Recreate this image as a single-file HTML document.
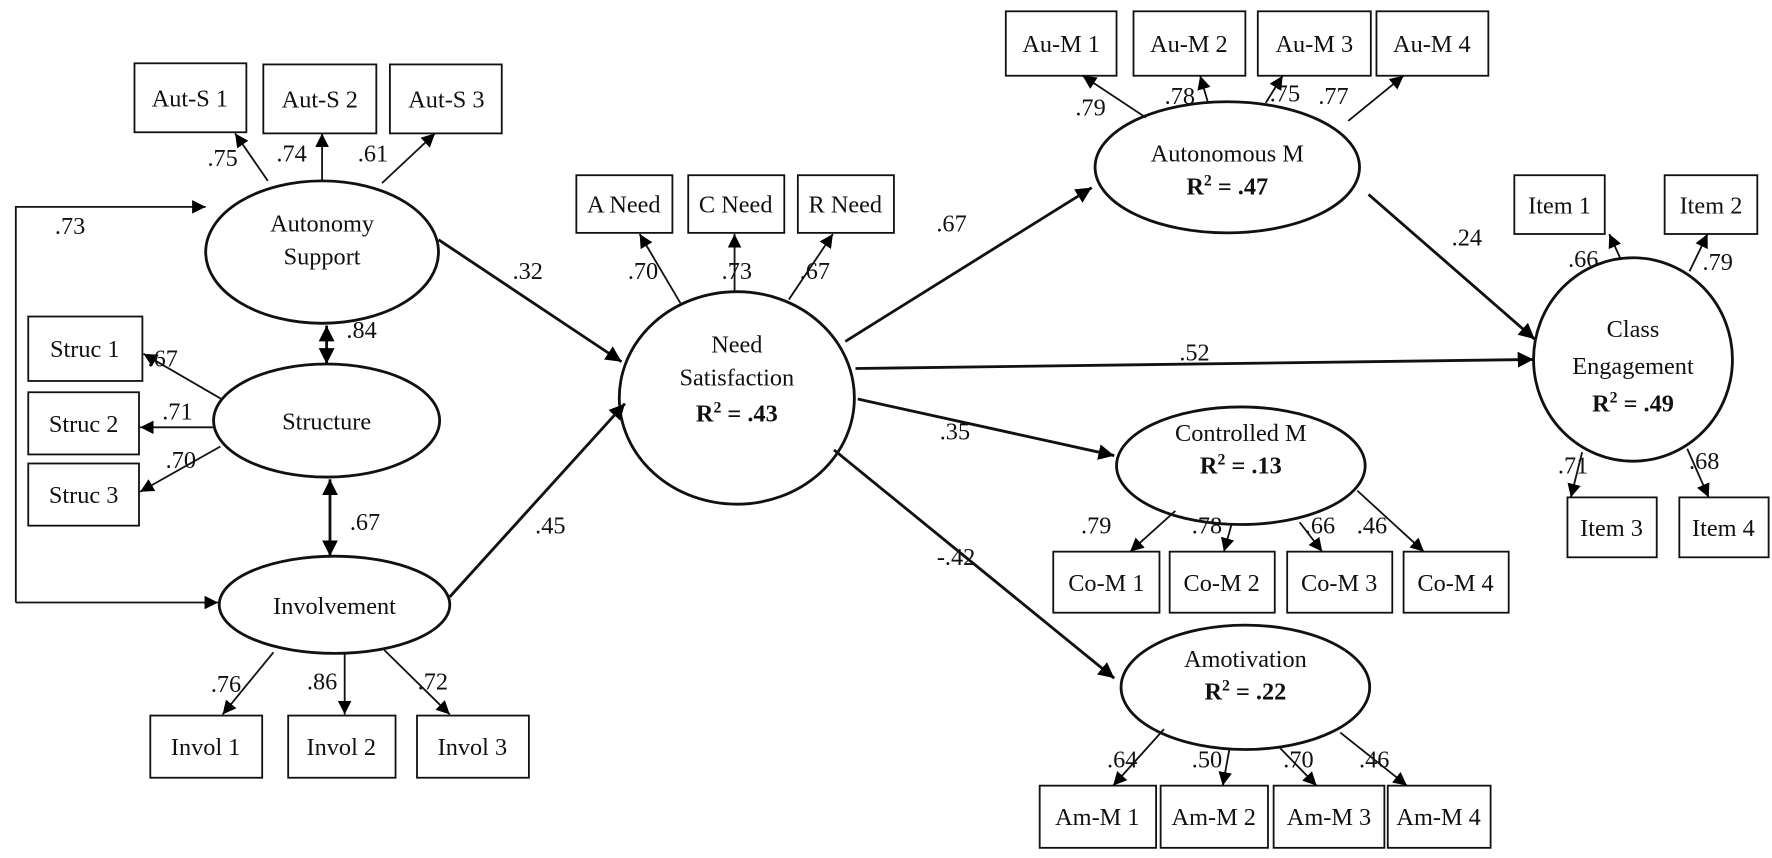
<!DOCTYPE html>
<html><head><meta charset="utf-8"><style>
html,body{margin:0;padding:0;background:#fff;}
svg{display:block;}
text{font-family:"Liberation Serif",serif;font-size:21.5px;fill:#111;}
.b{font-weight:bold;}
</style></head><body>
<svg width="1772" height="858" viewBox="0 0 1568 759" preserveAspectRatio="none" xmlns="http://www.w3.org/2000/svg">
<defs>
<marker id="a" viewBox="0 0 10 10" refX="10" refY="5" markerWidth="12" markerHeight="12" markerUnits="userSpaceOnUse" orient="auto"><path d="M0,0 L10,5 L0,10 z" fill="#000"/></marker>
<marker id="A" viewBox="0 0 10 10" refX="10" refY="5" markerWidth="14" markerHeight="14" markerUnits="userSpaceOnUse" orient="auto"><path d="M0,0 L10,5 L0,10 z" fill="#000"/></marker>
<marker id="As" viewBox="0 0 10 10" refX="0" refY="5" markerWidth="14" markerHeight="14" markerUnits="userSpaceOnUse" orient="auto"><path d="M10,0 L0,5 L10,10 z" fill="#000"/></marker>
</defs>
<g fill="#fff" stroke="#111" stroke-width="1.6">
<rect x="119" y="56" width="99" height="61"/><rect x="233" y="57" width="100" height="61"/><rect x="345" y="57" width="99" height="61"/>
<rect x="25" y="280" width="101" height="57"/><rect x="25" y="347" width="98" height="55"/><rect x="25" y="410" width="98" height="55"/>
<rect x="133" y="633" width="99" height="55"/><rect x="255" y="633" width="95" height="55"/><rect x="369" y="633" width="99" height="55"/>
<rect x="510" y="155" width="85" height="51"/><rect x="609" y="155" width="85" height="51"/><rect x="706" y="155" width="85" height="51"/>
<rect x="890" y="10" width="98" height="57"/><rect x="1003" y="10" width="99" height="57"/><rect x="1113" y="10" width="100" height="57"/><rect x="1218" y="10" width="99" height="57"/>
<rect x="1340" y="155" width="80" height="52"/><rect x="1473" y="155" width="82" height="52"/><rect x="1387" y="440" width="79" height="53"/><rect x="1486" y="440" width="79" height="53"/>
<rect x="932" y="488" width="94" height="54"/><rect x="1035" y="488" width="93" height="54"/><rect x="1139" y="488" width="93" height="54"/><rect x="1242" y="488" width="93" height="54"/>
<rect x="920" y="695" width="103" height="55"/><rect x="1027" y="695" width="95" height="55"/><rect x="1127" y="695" width="98" height="55"/><rect x="1228" y="695" width="91" height="55"/>
</g>
<g fill="#fff" stroke="#111" stroke-width="2.5">
<ellipse cx="285" cy="223" rx="103" ry="63"/>
<ellipse cx="289" cy="372" rx="100" ry="50"/>
<ellipse cx="296" cy="535" rx="102" ry="43"/>
<ellipse cx="652" cy="352" rx="104" ry="94"/>
<ellipse cx="1086" cy="148" rx="117" ry="58"/>
<ellipse cx="1445" cy="318" rx="88" ry="90"/>
<ellipse cx="1098" cy="412" rx="110" ry="52"/>
<ellipse cx="1102" cy="608" rx="110" ry="55"/>
</g>
<g stroke="#111" stroke-width="1.6" fill="none" marker-end="url(#a)">
<line x1="237" y1="160" x2="208" y2="118"/><line x1="285" y1="160" x2="285" y2="118"/><line x1="338" y1="162" x2="385" y2="118"/>
<line x1="196" y1="353" x2="127" y2="313"/><line x1="189" y1="378" x2="124" y2="378"/><line x1="195" y1="395" x2="124" y2="435"/>
<line x1="242" y1="577" x2="197" y2="632"/><line x1="305" y1="578" x2="305" y2="632"/><line x1="340" y1="575" x2="398" y2="632"/>
<line x1="602" y1="268" x2="566" y2="207"/><line x1="650" y1="258" x2="650" y2="207"/><line x1="698" y1="265" x2="737" y2="207"/>
<line x1="1014" y1="104" x2="958" y2="67"/><line x1="1069" y1="91" x2="1062" y2="67"/><line x1="1120" y1="91" x2="1135" y2="67"/><line x1="1193" y1="107" x2="1242" y2="67"/>
<line x1="1434" y1="229" x2="1424" y2="207"/><line x1="1495" y1="240" x2="1511" y2="207"/><line x1="1400" y1="400" x2="1390" y2="440"/><line x1="1493" y1="397" x2="1512" y2="440"/>
<line x1="1040" y1="452" x2="1000" y2="488"/><line x1="1090" y1="463" x2="1083" y2="488"/><line x1="1150" y1="462" x2="1170" y2="488"/><line x1="1201" y1="434" x2="1260" y2="488"/>
<line x1="1030" y1="645" x2="985" y2="695"/><line x1="1088" y1="662" x2="1082" y2="695"/><line x1="1132" y1="661" x2="1165" y2="695"/><line x1="1186" y1="648" x2="1245" y2="695"/>
<polyline points="14,533 14,183 182,183"/>
<line x1="14" y1="533" x2="193" y2="533"/>
</g>
<g stroke="#111" stroke-width="2.5" fill="none" marker-end="url(#A)">
<line x1="388" y1="212" x2="550" y2="320"/>
<line x1="398" y1="528" x2="553" y2="357"/>
<line x1="748" y1="302" x2="966" y2="166"/>
<line x1="1211" y1="172" x2="1358" y2="300"/>
<line x1="757" y1="326" x2="1357" y2="318"/>
<line x1="759" y1="353" x2="986" y2="403"/>
<line x1="738" y1="398" x2="986" y2="600"/>
<line x1="289" y1="288" x2="289" y2="322" marker-start="url(#As)"/>
<line x1="292" y1="424" x2="292" y2="492" marker-start="url(#As)"/>
</g>
<g text-anchor="middle">
<text x="168" y="94">Aut-S 1</text><text x="283" y="95">Aut-S 2</text><text x="395" y="95">Aut-S 3</text>
<text x="75" y="316">Struc 1</text><text x="74" y="382">Struc 2</text><text x="74" y="445">Struc 3</text>
<text x="182" y="668">Invol 1</text><text x="302" y="668">Invol 2</text><text x="418" y="668">Invol 3</text>
<text x="552" y="188">A Need</text><text x="651" y="188">C Need</text><text x="748" y="188">R Need</text>
<text x="939" y="46">Au-M 1</text><text x="1052" y="46">Au-M 2</text><text x="1163" y="46">Au-M 3</text><text x="1267" y="46">Au-M 4</text>
<text x="1380" y="189">Item 1</text><text x="1514" y="189">Item 2</text><text x="1426" y="474">Item 3</text><text x="1525" y="474">Item 4</text>
<text x="979" y="523">Co-M 1</text><text x="1081" y="523">Co-M 2</text><text x="1185" y="523">Co-M 3</text><text x="1288" y="523">Co-M 4</text>
<text x="971" y="730">Am-M 1</text><text x="1074" y="730">Am-M 2</text><text x="1176" y="730">Am-M 3</text><text x="1273" y="730">Am-M 4</text>
<text x="285" y="205">Autonomy</text><text x="285" y="234">Support</text>
<text x="289" y="380">Structure</text>
<text x="296" y="543">Involvement</text>
<text x="652" y="312">Need</text><text x="652" y="341">Satisfaction</text><text x="652" y="373" class="b">R<tspan font-size="14" dy="-8">2</tspan><tspan dy="8"> = .43</tspan></text>
<text x="1086" y="143">Autonomous M</text><text x="1086" y="172" class="b">R<tspan font-size="14" dy="-8">2</tspan><tspan dy="8"> = .47</tspan></text>
<text x="1445" y="298">Class</text><text x="1445" y="331">Engagement</text><text x="1445" y="364" class="b">R<tspan font-size="14" dy="-8">2</tspan><tspan dy="8"> = .49</tspan></text>
<text x="1098" y="390">Controlled M</text><text x="1098" y="419" class="b">R<tspan font-size="14" dy="-8">2</tspan><tspan dy="8"> = .13</tspan></text>
<text x="1102" y="590">Amotivation</text><text x="1102" y="619" class="b">R<tspan font-size="14" dy="-8">2</tspan><tspan dy="8"> = .22</tspan></text>
</g>
<g text-anchor="middle" font-size="20.5">
<text x="197" y="147">.75</text><text x="258" y="143">.74</text><text x="330" y="143">.61</text>
<text x="62" y="207">.73</text>
<text x="144" y="324">.67</text><text x="157" y="371">.71</text><text x="160" y="414">.70</text>
<text x="320" y="299">.84</text><text x="323" y="469">.67</text>
<text x="200" y="612">.76</text><text x="285" y="610">.86</text><text x="383" y="610">.72</text>
<text x="569" y="247">.70</text><text x="652" y="247">.73</text><text x="721" y="247">.67</text>
<text x="467" y="247">.32</text><text x="487" y="472">.45</text>
<text x="842" y="205">.67</text><text x="1298" y="217">.24</text><text x="1057" y="319">.52</text>
<text x="845" y="389">.35</text><text x="846" y="500">-.42</text>
<text x="965" y="102">.79</text><text x="1044" y="92">.78</text><text x="1137" y="90">.75</text><text x="1180" y="92">.77</text>
<text x="1401" y="236">.66</text><text x="1520" y="239">.79</text><text x="1392" y="419">.71</text><text x="1508" y="415">.68</text>
<text x="970" y="472">.79</text><text x="1068" y="472">.78</text><text x="1168" y="472">.66</text><text x="1214" y="472">.46</text>
<text x="993" y="679">.64</text><text x="1068" y="679">.50</text><text x="1149" y="679">.70</text><text x="1216" y="679">.46</text>
</g>
</svg>
</body></html>
